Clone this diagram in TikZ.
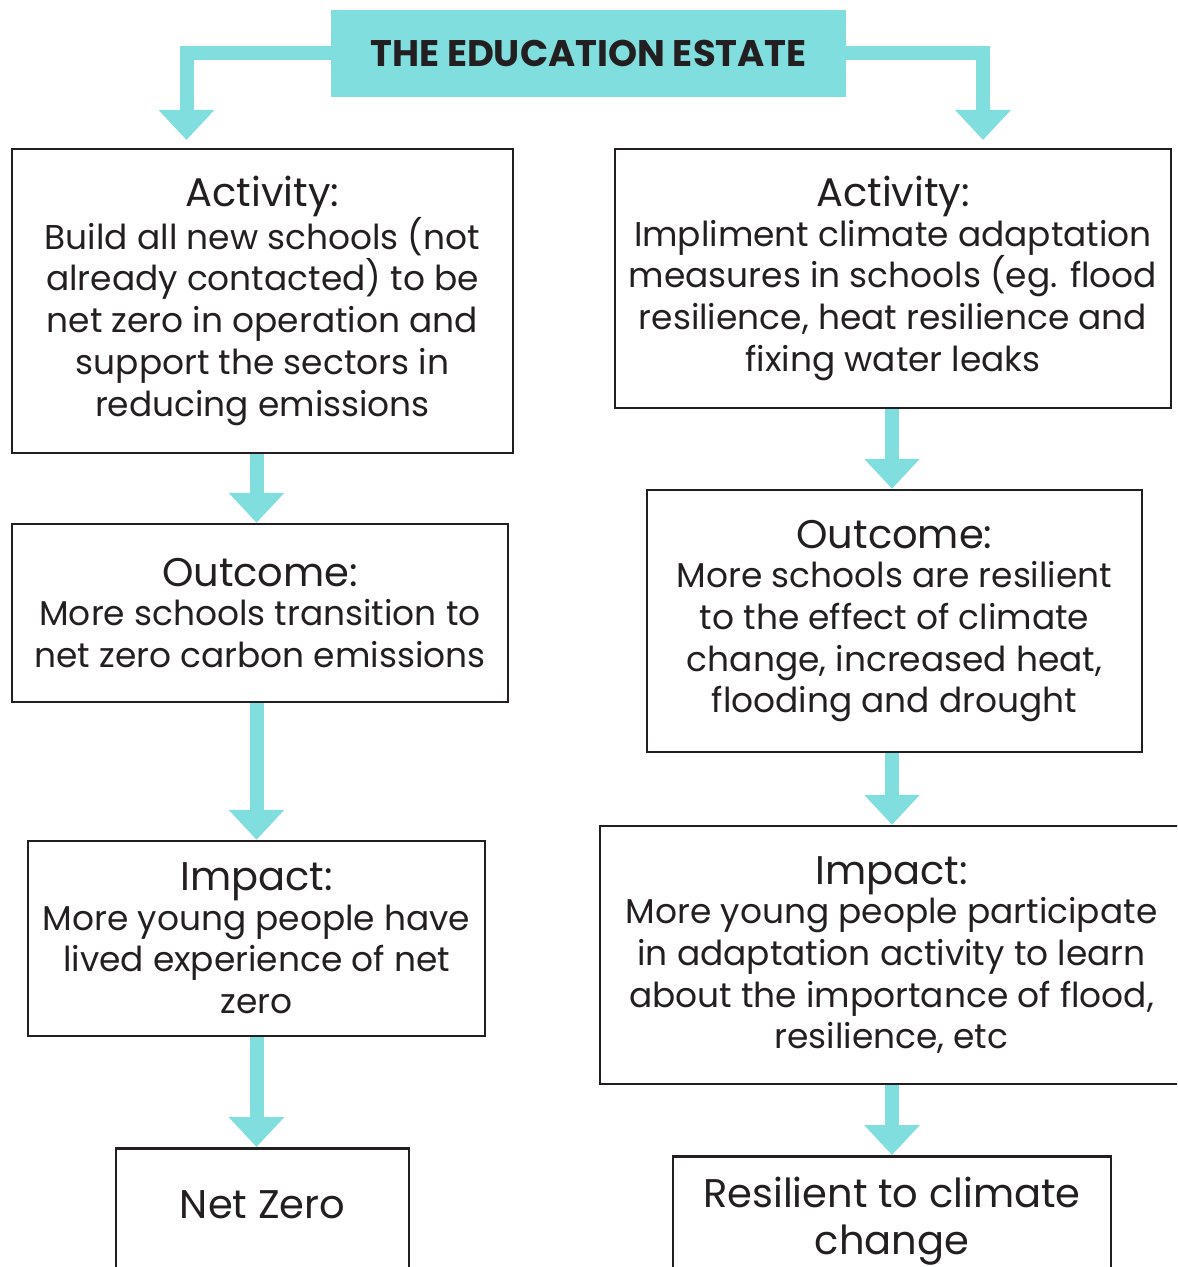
\documentclass[tikz,border=0pt]{standalone}
\usepackage{fontspec}
\setmainfont{Poppins}
\usepackage{tikz}
\usepackage{xcolor}
\usetikzlibrary{arrows.meta,positioning}
\definecolor{flowteal}{RGB}{128,222,223}
\definecolor{boxline}{RGB}{35,31,32}
\tikzstyle{flow} = [
    line width=7pt,
    -{Triangle[width=27pt,length=15pt]},
    draw=flowteal
]
\tikzstyle{stage} = [
    rectangle,
    draw=boxline,
    line width=1.25pt,
    align=center,
    inner sep=0pt,
    text=boxline,
    font=\fontsize{17.2}{20.9}\selectfont
]
\newcommand{\stagehead}[1]{{\fontsize{20}{22}\selectfont #1}\\[-1.2pt]}

\begin{document}
\begin{tikzpicture}[
                x=0.5pt, y=-0.5pt,
                banner/.style={
                    fill=flowteal,
                    minimum width=257.5pt,
                    minimum height=43.5pt,
                    text=boxline,
                    font=\fontsize{18.5}{20}\selectfont\bfseries
                },
                goal/.style={
                    stage,
                    anchor=north,
                    font=\fontsize{20}{23.5}\selectfont
                }
            ]
                \clip (0,0) rectangle (1177,1267);
                \node[banner] (E) at (588.5,53.5) {THE EDUCATION ESTATE};
                \node[stage, minimum width=250.5pt, minimum height=152pt] (A1) at (262.5,301) {\stagehead{Activity:}Build all new schools (not\\already contacted) to be\\net zero in operation and\\support the sectors in\\reducing emissions};
                \node[stage, minimum width=248pt, minimum height=89pt] (O1) at (260,613) {\stagehead{Outcome:}More schools transition to\\net zero carbon emissions};
                \node[stage, minimum width=228.5pt, minimum height=97.5pt] (I1) at (256.5,938.5) {\stagehead{Impact:}More young people have\\lived experience of net\\zero};
                \node[goal, minimum width=146.5pt, text height=35pt, text depth=40pt] (R1) at (262.5,1147) {Net Zero};
                \node[stage, minimum width=278pt, minimum height=129.5pt] (A2) at (893,278.5) {\stagehead{Activity:}Impliment climate adaptation\\measures in schools (eg. flood\\resilience, heat resilience and\\fixing water leaks};
                \node[stage, minimum width=247.5pt, minimum height=131pt] (O2) at (894.5,621) {\stagehead{Outcome:}More schools are resilient\\to the effect of climate\\change, increased heat,\\flooding and drought};
                \node[stage, minimum width=291.5pt, minimum height=129pt] (I2) at (891.5,955) {\stagehead{Impact:}More young people participate\\in adaptation activity to learn\\about the importance of flood,\\resilience, etc};
                \node[goal, minimum width=219pt, text height=49pt, text depth=24pt] (R2) at (892,1155) {Resilient to climate\\change};
                \coordinate (tipL) at (186.5,140);
                \coordinate (tipR) at (983,140);
                \draw[flow] (E.west) -| (tipL);
                \draw[flow] (E.east) -| (tipR);
                \draw[flow] (A1.south -| I1) -- (O1.north -| I1);
                \draw[flow] (O1.south -| I1) -- (I1.north);
                \draw[flow] (I1.south) -- (R1.north -| I1);
                \draw[flow] (A2.south -| R2) -- (O2.north -| R2);
                \draw[flow] (O2.south -| R2) -- (I2.north -| R2);
                \draw[flow] (I2.south -| R2) -- (R2.north);
            \end{tikzpicture}
\end{document}
